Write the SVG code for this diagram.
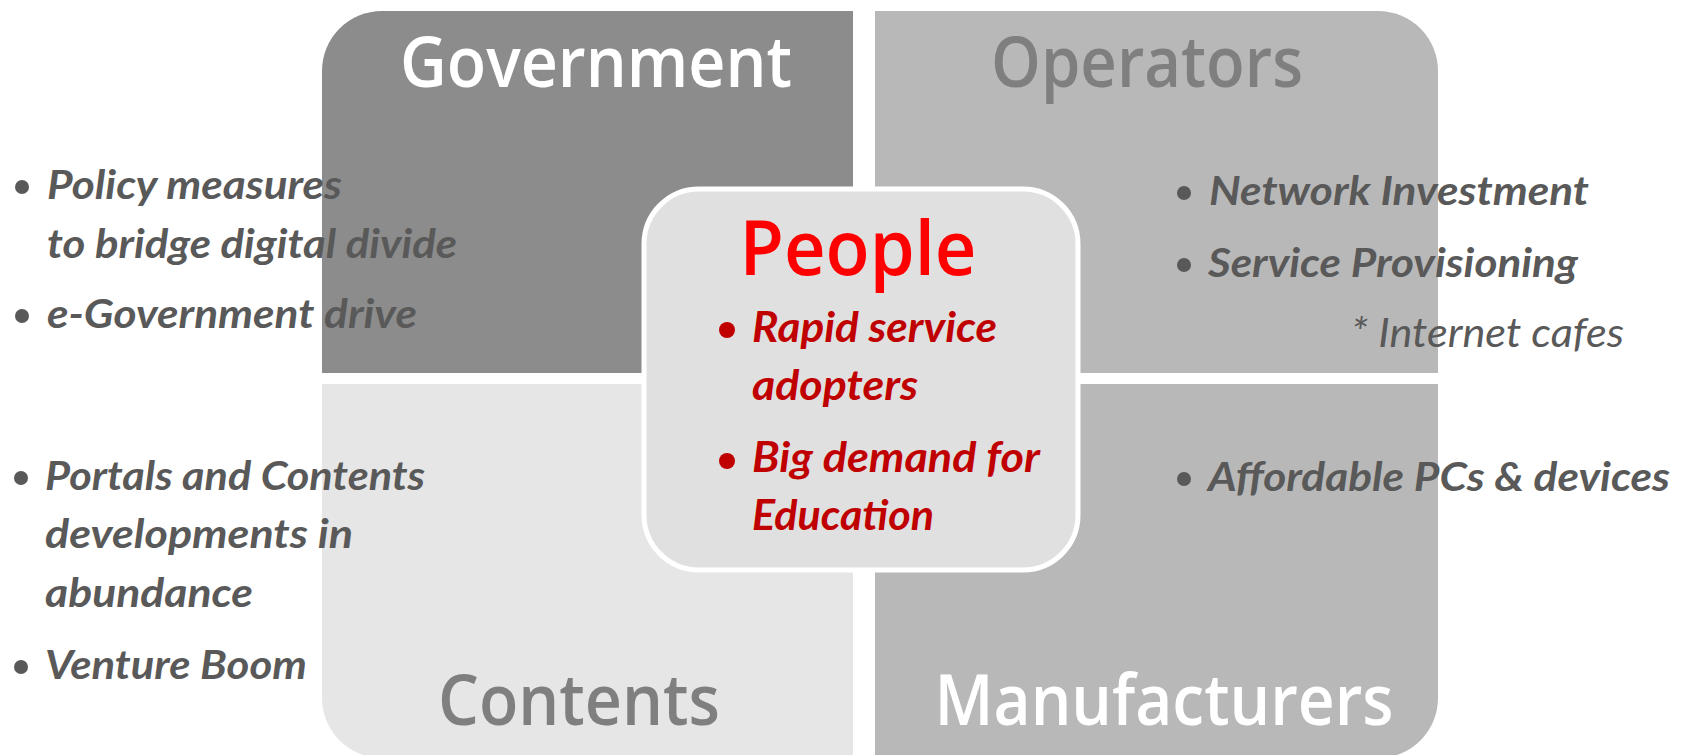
<svg xmlns="http://www.w3.org/2000/svg" width="1685" height="755" viewBox="0 0 1685 755">
<style>
.hd{font-family:"Open Sans",Lato,"Liberation Sans",sans-serif;font-size:70px;font-weight:600;text-anchor:middle}
.bt{font-family:Lato,"Open Sans","Liberation Sans",sans-serif;font-size:40px;font-weight:700;font-style:italic;fill:#595959}
.pt{font-family:Lato,"Open Sans","Liberation Sans",sans-serif;font-size:42px;font-weight:700;font-style:italic;fill:#c00000}
.lt{font-family:Lato,"Open Sans","Liberation Sans",sans-serif;font-size:40px;font-weight:400;font-style:italic;fill:#595959}
.dot{fill:#595959}
.pdot{fill:#c00000}
</style>
<rect width="1685" height="755" fill="#ffffff"/>
<g id="government">
<path d="M322,373 V71 A60,60 0 0 1 382,11 H853 V373 Z" fill="#8c8c8c"/>
<text class="hd" x="596" y="87" fill="#ffffff" textLength="392" lengthAdjust="spacingAndGlyphs">Government</text>
</g>
<g id="operators">
<path d="M875,11 H1378 A60,60 0 0 1 1438,71 V373 H875 Z" fill="#b8b8b8"/>
<text class="hd" x="1147" y="87" fill="#7f7f7f" textLength="312" lengthAdjust="spacingAndGlyphs">Operators</text>
</g>
<g id="contents">
<path d="M322,384 H853 V758 H382 A60,60 0 0 1 322,698 Z" fill="#e6e6e6"/>
<text class="hd" x="579" y="725" fill="#7f7f7f" textLength="282" lengthAdjust="spacingAndGlyphs">Contents</text>
</g>
<g id="manufacturers">
<path d="M875,384 H1438 V698 A60,60 0 0 1 1378,758 H875 Z" fill="#b8b8b8"/>
<text class="hd" x="1164" y="725" fill="#ffffff" textLength="459" lengthAdjust="spacingAndGlyphs">Manufacturers</text>
</g>
<g id="people">
<rect x="644" y="189" width="434" height="381" rx="55" fill="#e0e0e0" stroke="#ffffff" stroke-width="5"/>
<text class="hd" x="858" y="275" fill="#ff0000" style="font-size:76px" textLength="237" lengthAdjust="spacingAndGlyphs">People</text>
<circle class="pdot" cx="727" cy="330" r="8"/>
<text class="pt" x="752" y="342" textLength="245" lengthAdjust="spacingAndGlyphs">Rapid service</text>
<text class="pt" x="752" y="400" textLength="166" lengthAdjust="spacingAndGlyphs">adopters</text>
<circle class="pdot" cx="727" cy="461" r="8"/>
<text class="pt" x="752" y="472" textLength="288" lengthAdjust="spacingAndGlyphs">Big demand for</text>
<text class="pt" x="752" y="530" textLength="182" lengthAdjust="spacingAndGlyphs">Education</text>
</g>
<g id="government-notes">
<circle class="dot" cx="22" cy="187" r="7"/>
<text class="bt" x="47" y="199" textLength="295" lengthAdjust="spacingAndGlyphs">Policy measures</text>
<text class="bt" x="47" y="258" textLength="410" lengthAdjust="spacingAndGlyphs">to bridge digital divide</text>
<circle class="dot" cx="22" cy="316" r="7"/>
<text class="bt" x="47" y="328" textLength="370" lengthAdjust="spacingAndGlyphs">e-Government drive</text>
</g>
<g id="contents-notes">
<circle class="dot" cx="21" cy="478" r="7"/>
<text class="bt" x="45" y="490" textLength="380" lengthAdjust="spacingAndGlyphs">Portals and Contents</text>
<text class="bt" x="45" y="548" textLength="308" lengthAdjust="spacingAndGlyphs">developments in</text>
<text class="bt" x="45" y="607" textLength="208" lengthAdjust="spacingAndGlyphs">abundance</text>
<circle class="dot" cx="21" cy="667" r="7"/>
<text class="bt" x="45" y="679" textLength="262" lengthAdjust="spacingAndGlyphs">Venture Boom</text>
</g>
<g id="operators-notes">
<circle class="dot" cx="1184" cy="193" r="7"/>
<text class="bt" x="1209" y="205" textLength="380" lengthAdjust="spacingAndGlyphs">Network Investment</text>
<circle class="dot" cx="1184" cy="265" r="7"/>
<text class="bt" x="1208" y="277" textLength="370" lengthAdjust="spacingAndGlyphs">Service Provisioning</text>
<text class="lt" x="1351" y="347" textLength="273" lengthAdjust="spacingAndGlyphs">* Internet cafes</text>
</g>
<g id="manufacturers-notes">
<circle class="dot" cx="1184" cy="479" r="7"/>
<text class="bt" x="1208" y="491" textLength="462" lengthAdjust="spacingAndGlyphs">Affordable PCs &amp; devices</text>
</g>
<g id="connectors"/>
</svg>
